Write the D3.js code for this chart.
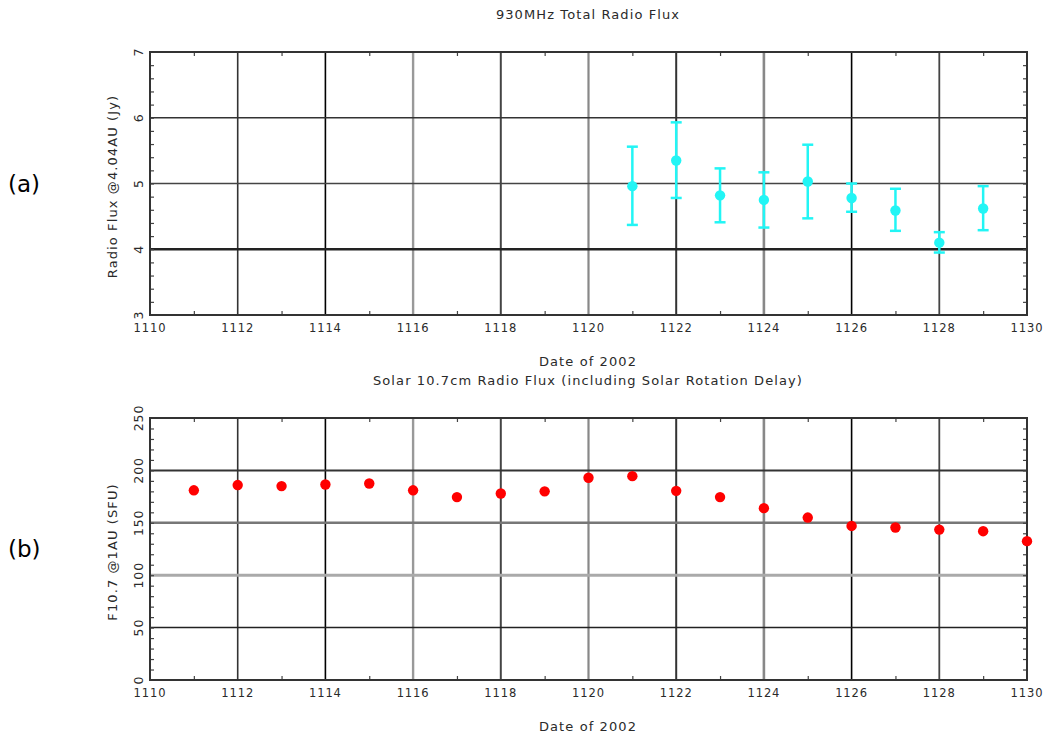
<!DOCTYPE html>
<html>
<head>
<meta charset="utf-8">
<script src="https://cdn.jsdelivr.net/npm/d3@7"></script>
<style>
  body { margin: 0; background: #fff; }
  text { font-family: "DejaVu Sans", sans-serif; }
</style>
</head>
<body>
<svg id="chart" width="1049" height="737"></svg>
<script>
// tick labels shared by both panels
const dayTicks = [1110, 1112, 1114, 1116, 1118, 1120, 1122, 1124, 1126, 1128, 1130];
const dayMinor = [1111, 1113, 1115, 1117, 1119, 1121, 1123, 1125, 1127, 1129];

// (a) 930MHz flux with error bars
const radioDays = [1121, 1122, 1123, 1124, 1125, 1126, 1127, 1128, 1129];
const radioFlux = [4.96, 5.35, 4.82, 4.75, 5.03, 4.78, 4.59, 4.10, 4.62];
const radioHigh = [5.56, 5.93, 5.23, 5.17, 5.59, 5.00, 4.92, 4.26, 4.96];
const radioLow  = [4.37, 4.78, 4.41, 4.33, 4.47, 4.57, 4.28, 3.95, 4.29];
const radioYTicks = [3, 4, 5, 6, 7];

// (b) solar F10.7
const solarDays = [1111, 1112, 1113, 1114, 1115, 1116, 1117, 1118, 1119, 1120,
                   1121, 1122, 1123, 1124, 1125, 1126, 1127, 1128, 1129, 1130];
const solarFlux = [181, 186, 185, 186.5, 187.5, 181, 174.5, 178, 180, 193,
                   194.5, 180.5, 174.5, 164, 155, 147, 145.5, 143.5, 142, 132.5];
const solarYTicks = [0, 50, 100, 150, 200, 250];

const svg = d3.select("#chart");

// the gridlines in the scanned figure look uneven, keep that look
const vGridStyle = {
  1112: ["#333", 1.6], 1114: ["#000", 1.6], 1116: ["#999", 2.4], 1118: ["#444", 2],
  1120: ["#888", 2.2], 1122: ["#333", 2], 1124: ["#888", 2.6], 1126: ["#000", 1.6],
  1128: ["#444", 1.8]
};

function label(sel, size, spacing) {
  return sel.attr("font-size", size).attr("letter-spacing", spacing).attr("fill", "#2a2a2a");
}

function drawPanel(p) {
  const g = svg.append("g");
  const x = d3.scaleLinear().domain([1110, 1130]).range([150, 1027]);
  const y = d3.scaleLinear().domain(p.yDomain).range([p.bottom, p.top]);

  // vertical grid
  g.selectAll(".vg").data(dayTicks.slice(1, -1)).join("line")
    .attr("x1", d => x(d)).attr("x2", d => x(d))
    .attr("y1", p.top).attr("y2", p.bottom)
    .attr("stroke", d => vGridStyle[d][0])
    .attr("stroke-width", d => vGridStyle[d][1]);

  // horizontal grid
  g.selectAll(".hg").data(p.hGrid).join("line")
    .attr("x1", 150).attr("x2", 1027)
    .attr("y1", d => y(d.v)).attr("y2", d => y(d.v))
    .attr("stroke", d => d.c).attr("stroke-width", d => d.w);

  // minor ticks, pointing inward
  const tk = 4;
  g.append("g").attr("transform", `translate(0,${p.top})`)
    .call(d3.axisBottom(x).tickValues(dayMinor).tickSize(tk).tickFormat(""));
  g.append("g").attr("transform", `translate(0,${p.bottom})`)
    .call(d3.axisTop(x).tickValues(dayMinor).tickSize(tk).tickFormat(""));
  g.append("g").attr("transform", "translate(150,0)")
    .call(d3.axisRight(y).tickValues(p.yMinor).tickSize(tk).tickFormat(""));
  g.append("g").attr("transform", "translate(1027,0)")
    .call(d3.axisLeft(y).tickValues(p.yMinor).tickSize(tk).tickFormat(""));
  g.selectAll(".domain").remove();
  g.selectAll(".tick line").attr("stroke", "#444").attr("stroke-width", 1.2);

  // frame
  g.append("rect").attr("x", 150).attr("y", p.top)
    .attr("width", 877).attr("height", p.bottom - p.top)
    .attr("fill", "none").attr("stroke", "#333").attr("stroke-width", 2);

  // tick labels
  g.selectAll(".xl").data(dayTicks).join("text")
    .attr("x", d => x(d)).attr("y", p.bottom + 17)
    .attr("text-anchor", "middle")
    .call(label, 11.5, 0.9)
    .text(d => d);
  g.selectAll(".yl").data(p.yTicks).join("text")
    .attr("transform", d => `translate(143,${y(d)}) rotate(-90)`)
    .attr("text-anchor", "middle")
    .call(label, 12.5, 0.9)
    .text(d => d);

  // titles
  g.append("text").attr("x", 588).attr("y", p.top - 33)
    .attr("text-anchor", "middle").call(label, 13, 1.1)
    .text(p.title);
  g.append("text").attr("x", 588).attr("y", p.bottom + 51)
    .attr("text-anchor", "middle").call(label, 13, 1.1)
    .text("Date of 2002");
  g.append("text")
    .attr("transform", `translate(117,${(p.top + p.bottom) / 2 + 3}) rotate(-90)`)
    .attr("text-anchor", "middle").call(label, 13, 1.1)
    .text(p.yLabel);
  g.append("text").attr("x", 8).attr("y", (p.top + p.bottom) / 2 + 8)
    .attr("font-family", "Liberation Sans, Arial, sans-serif")
    .attr("font-size", 23).attr("fill", "#000")
    .text(p.tag);

  p.draw(g, x, y);
}

drawPanel({
  top: 52, bottom: 315, yDomain: [3, 7], yTicks: radioYTicks,
  yMinor: d3.range(3.2, 7, 0.2),
  hGrid: [{v: 6, c: "#333", w: 1.6}, {v: 5, c: "#444", w: 1.4}, {v: 4, c: "#222", w: 2.6}],
  title: "930MHz Total Radio Flux",
  yLabel: "Radio Flux @4.04AU (Jy)",
  tag: "(a)",
  draw: (g, x, y) => {
    const cyan = "#22f5f5";
    const cap = 5.5;
    radioDays.forEach((d, i) => {
      g.append("line").attr("x1", x(d)).attr("x2", x(d))
        .attr("y1", y(radioHigh[i])).attr("y2", y(radioLow[i]))
        .attr("stroke", cyan).attr("stroke-width", 2.5);
      [radioHigh[i], radioLow[i]].forEach(v => {
        g.append("line").attr("x1", x(d) - cap).attr("x2", x(d) + cap)
          .attr("y1", y(v)).attr("y2", y(v))
          .attr("stroke", cyan).attr("stroke-width", 2.5);
      });
      g.append("circle").attr("cx", x(d)).attr("cy", y(radioFlux[i]))
        .attr("r", 5.2).attr("fill", cyan);
    });
  }
});

drawPanel({
  top: 418, bottom: 680, yDomain: [0, 250], yTicks: solarYTicks,
  yMinor: d3.range(10, 250, 10),
  hGrid: [{v: 200, c: "#333", w: 2}, {v: 150, c: "#777", w: 2.6},
          {v: 100, c: "#aaa", w: 3}, {v: 50, c: "#222", w: 1.5}],
  title: "Solar 10.7cm Radio Flux (including Solar Rotation Delay)",
  yLabel: "F10.7 @1AU (SFU)",
  tag: "(b)",
  draw: (g, x, y) => {
    g.selectAll(".pt").data(solarDays).join("circle")
      .attr("cx", d => x(d)).attr("cy", (d, i) => y(solarFlux[i]))
      .attr("r", 5.2).attr("fill", "#ff0000");
  }
});
</script>
</body>
</html>
